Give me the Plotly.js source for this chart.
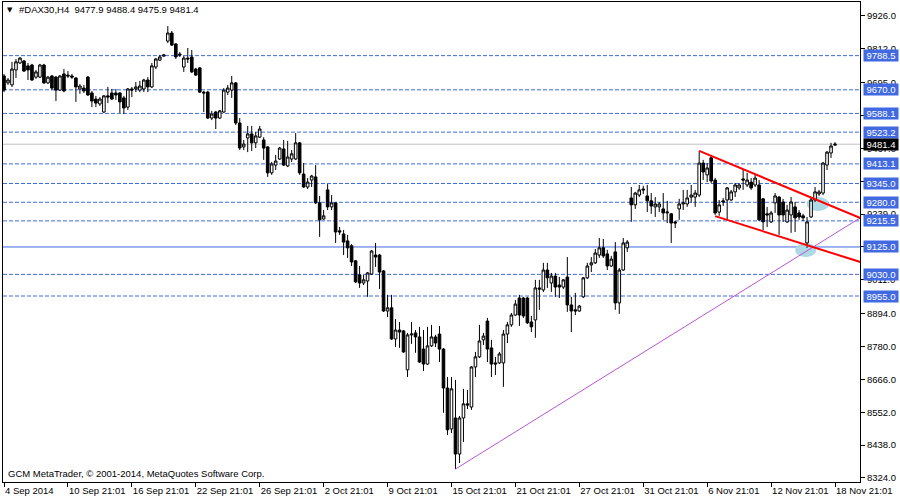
<!DOCTYPE html>
<html><head><meta charset="utf-8">
<script src="https://cdn.plot.ly/plotly-3.0.1.min.js"></script>
<style>html,body{margin:0;padding:0;background:#fff}#chart{width:900px;height:500px}</style>
</head><body><div id="chart"></div>
<script>
const symbolTitle = '#DAX30,H4';
const copyrightText = 'GCM MetaTrader, \u00a9 2001-2014, MetaQuotes Software Corp.';

const openP = [
9718,9694,9687,9739,9763,9770,9753,9756,9714,9714,
9756,9694,9718,9714,9669,9725,9721,9718,9711,9673,
9676,9714,9659,9638,9621,9593,9649,9659,9659,9659,
9642,9610,9673,9673,9669,9673,9704,9680,9749,9773,
9787,9839,9867,9829,9794,9749,9780,9784,9742,9746,
9662,9662,9572,9593,9572,9593,9662,9669,9694,9555,
9472,9503,9517,9486,9506,9496,9472,9382,9409,9430,
9465,9406,9430,9430,9486,9378,9333,9357,9368,9278,
9222,9323,9264,9278,9181,9170,9146,9129,9077,9028,
9000,9007,9031,9097,9097,9042,8903,8914,8806,8837,
8834,8699,8820,8827,8813,8771,8719,8782,8813,8823,
8771,8636,8494,8532,8407,8532,8581,8570,8709,8744,
8803,8868,8775,8723,8723,8723,8823,8855,8889,8948,
8948,8948,8865,8872,8983,8976,9045,9000,9024,8993,
8986,9021,8924,8907,8903,8952,9018,9063,9070,9097,
9122,9101,9059,9108,8931,9045,9122,9295,9271,9305,
9326,9302,9285,9264,9264,9257,9243,9240,9212,9257,
9274,9274,9298,9298,9305,9416,9375,9434,9357,9246,
9285,9288,9288,9316,9330,9361,9340,9350,9340,9340,
9292,9240,9212,9278,9298,9281,9212,9236,9264,9243,
9233,9139,9229,9288,9309,9312,9409,9451,9477.9];

const highP = [
9725,9711,9767,9777,9784,9773,9763,9760,9739,9760,
9760,9718,9721,9718,9721,9742,9735,9725,9714,9690,
9687,9718,9666,9649,9645,9652,9680,9673,9673,9662,
9649,9676,9680,9697,9701,9708,9714,9763,9780,9791,
9794,9891,9874,9832,9801,9787,9815,9808,9746,9749,
9666,9666,9597,9597,9600,9676,9687,9718,9697,9572,
9496,9545,9545,9524,9545,9506,9475,9420,9444,9472,
9496,9493,9461,9520,9489,9416,9364,9375,9409,9302,
9253,9343,9305,9278,9194,9184,9167,9135,9080,9059,
9028,9038,9115,9139,9101,9045,8959,8959,8875,8865,
8837,8827,8865,8837,8848,8837,8848,8855,8820,8851,
8775,8674,8674,8664,8539,8633,8629,8712,8761,8855,
8827,8879,8803,8744,8761,8837,8865,8896,8941,8959,
8952,8952,8886,9011,9011,9070,9070,9035,9035,9021,
9014,9090,8952,8966,8924,9021,9070,9090,9118,9156,
9153,9115,9094,9142,9052,9156,9149,9333,9316,9340,
9337,9340,9312,9298,9281,9312,9285,9243,9215,9292,
9323,9323,9340,9323,9458,9427,9416,9444,9364,9288,
9295,9333,9323,9347,9347,9392,9382,9364,9375,9357,
9295,9264,9250,9312,9302,9292,9271,9298,9281,9253,
9240,9229,9295,9333,9323,9420,9458,9486,9488.4];

const lowP = [
9662,9687,9680,9711,9760,9732,9704,9701,9708,9711,
9690,9690,9669,9631,9666,9662,9711,9708,9628,9656,
9659,9649,9610,9610,9614,9590,9624,9635,9635,9590,
9586,9600,9645,9662,9662,9662,9662,9676,9742,9770,
9784,9832,9822,9777,9784,9732,9763,9728,9718,9659,
9593,9569,9565,9534,9569,9590,9652,9642,9548,9461,
9461,9454,9458,9468,9503,9427,9368,9375,9392,9427,
9406,9402,9420,9427,9375,9330,9326,9333,9274,9160,
9219,9253,9253,9139,9167,9097,9087,9059,9000,8983,
8993,8952,9028,9056,8979,8900,8882,8803,8778,8775,
8758,8674,8789,8758,8723,8695,8716,8778,8778,8726,
8550,8473,8480,8355,8376,8449,8563,8560,8674,8740,
8785,8726,8674,8681,8719,8640,8792,8848,8886,8851,
8879,8858,8830,8810,8907,8969,8983,8969,8952,8948,
8979,8900,8830,8889,8900,8948,9014,9038,9066,9087,
9087,9045,9056,8907,8893,9042,9108,9212,9257,9298,
9309,9246,9240,9229,9246,9219,9208,9139,9191,9219,
9253,9264,9278,9264,9298,9357,9350,9347,9236,9233,
9267,9219,9285,9298,9323,9323,9333,9323,9333,9215,
9184,9194,9208,9243,9167,9212,9208,9174,9177,9219,
9215,9122,9226,9281,9302,9305,9392,9434,9475.9];

const closeP = [
9669,9704,9742,9767,9780,9735,9739,9704,9732,9756,
9694,9714,9676,9669,9718,9666,9718,9714,9680,9683,
9666,9652,9631,9624,9638,9649,9645,9638,9652,9628,
9607,9673,9669,9680,9683,9704,9680,9753,9777,9784,
9791,9867,9825,9784,9791,9780,9777,9732,9721,9662,
9659,9572,9586,9572,9597,9669,9676,9694,9555,9468,
9482,9517,9486,9510,9534,9468,9382,9413,9423,9468,
9409,9437,9448,9486,9382,9333,9350,9371,9278,9219,
9233,9264,9278,9177,9177,9142,9122,9073,9004,9000,
9011,9035,9111,9090,9038,8903,8914,8806,8837,8830,
8761,8820,8823,8813,8726,8719,8782,8813,8792,8771,
8636,8491,8633,8407,8532,8581,8577,8709,8744,8799,
8816,8771,8719,8719,8754,8823,8855,8889,8927,8889,
8886,8862,8848,8983,8979,9045,9018,9024,8986,8986,
9011,8924,8903,8903,8920,9018,9059,9070,9104,9122,
9094,9059,9083,8931,9045,9139,9142,9271,9312,9323,
9323,9285,9267,9274,9274,9243,9246,9208,9208,9274,
9278,9295,9305,9312,9416,9385,9399,9354,9243,9271,
9281,9330,9316,9340,9340,9357,9357,9330,9364,9219,
9212,9236,9243,9302,9236,9236,9253,9281,9226,9229,
9226,9212,9288,9316,9316,9416,9454,9475,9481.4];

// x axis tick labels (every 16 H4 bars)
const tickBars = [0,16,32,48,64,80,96,112,128,144,160,176,192,208];
const tickLabels = ['4 Sep 2014','10 Sep 21:01','16 Sep 21:01','22 Sep 21:01','26 Sep 21:01','2 Oct 21:01','9 Oct 21:01','15 Oct 21:01','21 Oct 21:01','27 Oct 21:01','31 Oct 21:01','6 Nov 21:01','12 Nov 21:01','18 Nov 21:01'];

// price axis ticks
const priceTicks = [9926,9812,9695,9581,9467,9353,9239,9125,9011,8894,8780,8666,8552,8438,8324];

// horizontal levels
const dashedLevels = [9788.5,9670.0,9588.1,9523.2,9413.1,9345.0,9280.0,9215.5,9030.0,8955.0];
const solidLevel = 9125.0;
const lastPrice = 9481.4;

// trend lines: [bar, price] anchors
const upperChannelBars = [174, 220];
const upperChannelPrices = [9458, 9193];
const lowerChannelBars = [178, 220];
const lowerChannelPrices = [9232, 9048];
const supportRayBars = [113, 220];
const supportRayPrices = [8355, 9275];

// highlighted zones: [barFrom, barTo, priceLow, priceHigh]
const zoneA = [198, 203.3, 9090, 9139];
const zoneB = [200.9, 206.5, 9250, 9298];

const bars = openP.map((_, i) => i);
const fmt = v => v.toFixed(1);

const FONT = 'Liberation Sans, Arial, sans-serif';
const BLUE = '#4169E1';

const traces = [
  {
    type: 'candlestick', x: bars, open: openP, high: highP, low: lowP, close: closeP,
    increasing: {line: {color: '#000', width: 1}, fillcolor: '#fff'},
    decreasing: {line: {color: '#000', width: 1}, fillcolor: '#000'},
    whiskerwidth: 0, hoverinfo: 'none', showlegend: false
  },
  {type: 'scatter', mode: 'lines', x: supportRayBars, y: supportRayPrices,
   line: {color: '#BA55D3', width: 1}, hoverinfo: 'none', showlegend: false},
  {type: 'scatter', mode: 'lines', x: upperChannelBars, y: upperChannelPrices,
   line: {color: '#FF0000', width: 2}, hoverinfo: 'none', showlegend: false},
  {type: 'scatter', mode: 'lines', x: lowerChannelBars, y: lowerChannelPrices,
   line: {color: '#FF0000', width: 2}, hoverinfo: 'none', showlegend: false}
];

const shapes = [];
dashedLevels.forEach(v => shapes.push({type: 'line', xref: 'paper', x0: 0, x1: 1, yref: 'y', y0: v, y1: v,
  line: {color: BLUE, width: 1, dash: '4px,2px'}, layer: 'below'}));
shapes.push({type: 'line', xref: 'paper', x0: 0, x1: 1, yref: 'y', y0: solidLevel, y1: solidLevel,
  line: {color: BLUE, width: 1}, layer: 'below'});
shapes.push({type: 'line', xref: 'paper', x0: 0, x1: 1, yref: 'y', y0: lastPrice, y1: lastPrice,
  line: {color: '#C0C0C0', width: 1}, layer: 'below'});
[zoneA, zoneB].forEach(z => shapes.push({type: 'circle', xref: 'x', yref: 'y',
  x0: z[0], x1: z[1], y0: z[2], y1: z[3], fillcolor: '#ADD8E6', line: {width: 0}, layer: 'below'}));

const annotations = [];
annotations.push({xref: 'paper', yref: 'paper', x: 0, y: 1, xanchor: 'left', yanchor: 'top', xshift: 2, yshift: -2,
  text: '\u25BC', showarrow: false, font: {family: 'DejaVu Sans', size: 7, color: '#000'}});
annotations.push({xref: 'paper', yref: 'paper', x: 0, y: 1, xanchor: 'left', yanchor: 'top', xshift: 14, yshift: 0,
  text: symbolTitle + '&nbsp;&nbsp;' + openP[openP.length-1].toFixed(1) + ' ' + highP[highP.length-1].toFixed(1) + ' ' +
        lowP[lowP.length-1].toFixed(1) + ' ' + closeP[closeP.length-1].toFixed(1),
  showarrow: false, font: {family: FONT, size: 9.5, color: '#000'}});
annotations.push({xref: 'paper', yref: 'paper', x: 0, y: 0, xanchor: 'left', yanchor: 'bottom', xshift: 3, yshift: 1,
  text: copyrightText, showarrow: false, font: {family: FONT, size: 9.5, color: '#000'}});
dashedLevels.concat([solidLevel]).forEach(v => annotations.push({xref: 'paper', yref: 'y', x: 1, y: v,
  xanchor: 'left', yanchor: 'middle', xshift: 3, text: fmt(v), showarrow: false, bgcolor: BLUE,
  borderpad: 0, width: 34, align: 'center', font: {family: FONT, size: 9.5, color: '#fff'}}));
annotations.push({xref: 'paper', yref: 'y', x: 1, y: lastPrice, xanchor: 'left', yanchor: 'middle', xshift: 3,
  text: fmt(lastPrice), showarrow: false, bgcolor: '#000', borderpad: 0, width: 34, align: 'center',
  font: {family: FONT, size: 9.5, color: '#fff'}});

const layout = {
  width: 900, height: 500,
  margin: {l: 3, r: 40, t: 2, b: 18, pad: 0},
  paper_bgcolor: '#fff', plot_bgcolor: '#fff',
  showlegend: false, hovermode: false,
  boxgap: 0.35, boxgroupgap: 0,
  xaxis: {
    range: [-0.25, 214.25], showgrid: false, zeroline: false,
    showline: true, mirror: true, linecolor: '#000', linewidth: 1,
    ticks: 'outside', ticklen: 4, tickcolor: '#000', tickwidth: 1,
    tickmode: 'array', tickvals: tickBars, ticktext: tickLabels,
    tickangle: 0, ticklabelposition: 'outside right',
    tickfont: {family: FONT, size: 9.5, color: '#000'},
    rangeslider: {visible: false}, fixedrange: true
  },
  yaxis: {
    side: 'right', range: [8310, 9974.5], showgrid: false, zeroline: false,
    showline: true, mirror: true, linecolor: '#000', linewidth: 1,
    ticks: 'outside', ticklen: 4, tickcolor: '#000', tickwidth: 1,
    tickmode: 'array', tickvals: priceTicks, ticktext: priceTicks.map(fmt),
    tickfont: {family: FONT, size: 9.5, color: '#000'}, fixedrange: true
  },
  shapes: shapes,
  annotations: annotations
};

Plotly.newPlot('chart', traces, layout, {staticPlot: true, displayModeBar: false});
</script>
</body></html>
